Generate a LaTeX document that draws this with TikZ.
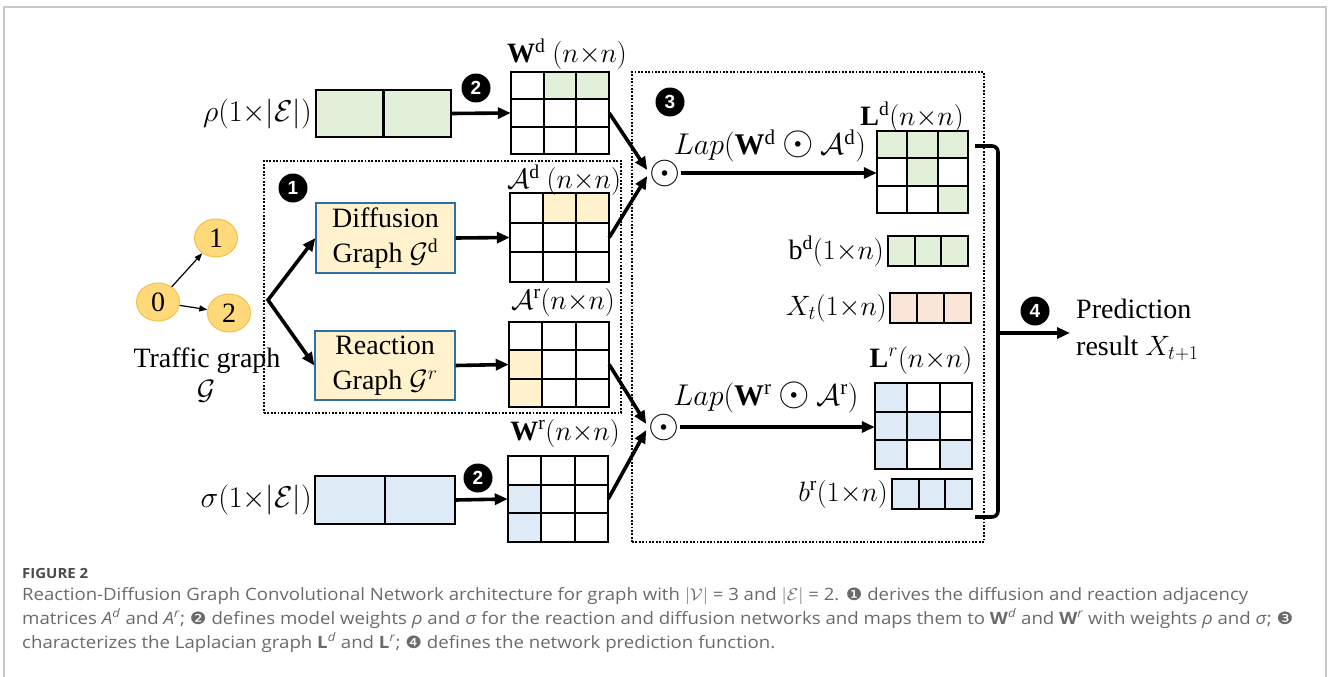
\documentclass[tikz,border=0pt]{standalone}
\usepackage{fix-cm}
\usepackage{fontspec}
\setmainfont{Liberation Serif}
\newfontfamily\capfont{Open Sans}
\newfontfamily\symfont{DejaVu Sans}
\newfontfamily\badgefont{Liberation Sans}
\usetikzlibrary{arrows.meta,shapes.geometric,fit,calc}

\definecolor{cgreen}{HTML}{E2F0D9}
\definecolor{cyellow}{HTML}{FFF2CC}
\definecolor{cblue}{HTML}{DEEBF7}
\definecolor{cpeach}{HTML}{FBE5D6}
\definecolor{boxblue}{HTML}{2E6FA7}
\definecolor{nodefill}{HTML}{FFD97A}
\definecolor{nodeedge}{HTML}{F5C04A}
\definecolor{framegray}{HTML}{C8C8C8}
\definecolor{captext}{HTML}{6A6A6A}
\definecolor{caphead}{HTML}{4A4A4A}

\tikzset{
  matline/.style={line width=2.2pt, line cap=rect},
  flow/.style={line width=3.6pt, line join=miter, -{Triangle[length=13pt,width=11pt]}},
  thinarrow/.style={line width=1.2pt, -{Triangle[length=8pt,width=6pt]}},
  dotbox/.style={draw, line width=1.8pt, dash pattern=on 1.8pt off 1.6pt, inner sep=0pt},
  badge/.style={circle, fill=black, text=white, minimum size=29pt, inner sep=0pt,
    font=\badgefont\bfseries\fontsize{19}{19}\selectfont},
  gbox/.style={draw=boxblue, line width=1.2pt, fill=cyellow, align=center, inner sep=0pt,
    font=\fontsize{28}{35}\selectfont},
  tnode/.style={ellipse, draw=nodeedge, fill=nodefill, line width=1pt, minimum width=43pt,
    minimum height=38pt, inner sep=0pt, font=\fontsize{28}{28}\selectfont},
  lbl/.style={font=\fontsize{28}{34}\selectfont, inner sep=0pt},
  biglbl/.style={font=\fontsize{30}{34}\selectfont, inner sep=0pt},
  captxt/.style={anchor=base west, inner sep=0pt, text=captext,
    font=\capfont\fontsize{17}{20}\selectfont},
}

% a larger Hadamard-product sign
\newcommand{\hprod}{\mathbin{\scalebox{1.35}{$\odot$}}}

% grid of cells: name, x0, y0, x1, y1, columns, rows, fill colour, filled cells (col/row)
\newcommand{\gridmat}[9]{%
  \foreach \cc/\rr in {#9}{%
    \fill[#8] ({#2+(\cc-1)*(#4-#2)/#6},{#3+(\rr-1)*(#5-#3)/#7})
      rectangle ({#2+\cc*(#4-#2)/#6},{#3+\rr*(#5-#3)/#7});
  }
  \foreach \ii in {0,...,#6}{\draw[matline] ({#2+\ii*(#4-#2)/#6},#3) -- ({#2+\ii*(#4-#2)/#6},#5);}
  \foreach \jj in {0,...,#7}{\draw[matline] (#2,{#3+\jj*(#5-#3)/#7}) -- (#4,{#3+\jj*(#5-#3)/#7});}
  \node[fit={(#2,#3) (#4,#5)}, inner sep=0pt] (#1) {};
}

\begin{document}
\begin{tikzpicture}[x=1pt,y=-1pt]
\useasboundingbox (0,0) rectangle (1328,677);

% outer frame
\draw[framegray, line width=1.5pt] (4,700) -- (4,7) -- (1326,7) -- (1326,700);

% ---- traffic graph ----
\node[tnode] (t0) at (158,302) {0};
\node[tnode] (t1) at (216,238) {1};
\node[tnode] (t2) at (229,313) {2};
\draw[thinarrow] (t0) -- (t1);
\draw[thinarrow] (t0) -- (t2);
\node[lbl, anchor=base] (tgname) at (207,367) {Traffic graph};
\node[lbl, anchor=base] (tgsym) at (206,399) {$\mathcal{G}$};

% ---- stage 1: graph construction ----
\node[dotbox, fit={(264,161) (621,413)}] (stage1) {};
\node[badge] (b1) at (293,188) {1};
\node[gbox, minimum width=139pt, minimum height=70pt] (diff) at (385.5,238)
  {Diffusion\\Graph $\mathcal{G}^{\mathrm{d}}$};
\node[gbox, minimum width=140pt, minimum height=69pt] (reac) at (385,365.5)
  {Reaction\\Graph $\mathcal{G}^{r}$};
\coordinate (fork) at (268,300);
\draw[flow, {Triangle[length=13pt,width=11pt]}-{Triangle[length=13pt,width=11pt]}]
  (diff.west) -- (fork) -- (reac.west);

\gridmat{Ad}{510}{193}{609}{282}{3}{3}{cyellow}{2/1,3/1}
\gridmat{Ar}{509}{322}{609}{407}{3}{3}{cyellow}{1/2,1/3}
\node[lbl] (Adlbl) at (564,180) {$\mathcal{A}^{\mathrm{d}}$ $(n{\times}n)$};
\node[lbl] (Arlbl) at (563,302) {$\mathcal{A}^{\mathrm{r}}(n{\times}n)$};
\draw[flow] (diff.east) -- (Ad.west);
\draw[flow] (reac.east) -- (Ar.west);

% ---- stage 2: edge weights ----
\gridmat{rho}{316}{90}{451}{137}{2}{1}{cgreen}{1/1,2/1}
\gridmat{sig}{315}{476}{455}{524}{2}{1}{cblue}{1/1,2/1}
\node[biglbl, anchor=east] (rholbl) at (312,114) {$\rho(1{\times}|\mathcal{E}|)$};
\node[biglbl, anchor=east] (siglbl) at (312,500) {$\sigma(1{\times}|\mathcal{E}|)$};
\gridmat{Wd}{511}{72}{609}{154}{3}{3}{cgreen}{2/1,3/1}
\gridmat{Wr}{508}{456}{608}{542}{3}{3}{cblue}{1/2,1/3}
\node[lbl] (Wdlbl) at (567,54) {$\mathbf{W}^{\mathrm{d}}$ $(n{\times}n)$};
\node[lbl] (Wrlbl) at (565,433) {$\mathbf{W}^{\mathrm{r}}(n{\times}n)$};
\node[badge] (b2a) at (476,88) {2};
\node[badge] (b2b) at (478,478) {2};
\draw[flow] (rho.east) -- (Wd.west);
\draw[flow] (sig.east) -- (Wr.west);

% ---- stage 3: Laplacians ----
\node[dotbox, fit={(632,72) (984,542)}] (stage3) {};
\node[badge] (b3) at (670,102) {3};
\node[lbl, font=\fontsize{40}{40}\selectfont] (odU) at (665,173) {$\odot$};
\node[lbl, font=\fontsize{40}{40}\selectfont] (odL) at (664,427) {$\odot$};
\draw[flow] (Wd.east) -- ([xshift=-2pt,yshift=3pt]odU.west);
\draw[flow] (Ad.east) -- ([xshift=-2pt,yshift=-3pt]odU.west);
\draw[flow] (Ar.east) -- ([xshift=-2pt,yshift=3pt]odL.west);
\draw[flow] (Wr.east) -- ([xshift=-2pt,yshift=-3pt]odL.west);

\gridmat{Ld}{877}{131}{968}{213}{3}{3}{cgreen}{1/1,2/1,3/1,2/2,3/3}
\gridmat{bd}{888}{236}{968}{266}{3}{1}{cgreen}{1/1,2/1,3/1}
\gridmat{Xt}{890}{293}{971}{323}{3}{1}{cpeach}{1/1,2/1,3/1}
\gridmat{Lr}{875}{383}{972}{469}{3}{3}{cblue}{1/1,1/2,2/2,1/3,3/3}
\gridmat{br}{892}{479}{972}{509}{3}{1}{cblue}{1/1,2/1,3/1}

\node[lbl] (Ldlbl) at (912,117) {$\mathbf{L}^{\mathrm{d}}(n{\times}n)$};
\node[lbl, anchor=east] (bdlbl) at (884,251) {$\mathrm{b}^{\mathrm{d}}(1{\times}n)$};
\node[lbl, anchor=east] (Xtlbl) at (887,308) {$X_t(1{\times}n)$};
\node[lbl] (Lrlbl) at (921,360) {$\mathbf{L}^{r}(n{\times}n)$};
\node[lbl, anchor=east] (brlbl) at (888,494) {$b^{\mathrm{r}}(1{\times}n)$};

\node[biglbl] (lapU) at (770,146) {$Lap(\mathbf{W}^{\mathrm{d}}\hprod\mathcal{A}^{\mathrm{d}})$};
\node[biglbl] (lapL) at (766,397) {$Lap(\mathbf{W}^{\mathrm{r}}\hprod\mathcal{A}^{\mathrm{r}})$};
\draw[flow] (odU.east) -- (odU.east -| Ld.west);
\draw[flow] (odL.east) -- (odL.east -| Lr.west);

% ---- stage 4: prediction ----
\coordinate (brtop) at (975,146);
\coordinate (brbot) at (975,517);
\coordinate (brmid) at (998,333);
\draw[line width=3.6pt, rounded corners=6pt] (brtop) -- (998,146) -- (998,517) -- (brbot);
\node[badge] (b4) at (1035,311) {4};
\node[lbl, anchor=west, align=left, font=\fontsize{28}{37}\selectfont] (pred) at (1076,330)
  {Prediction\\result $X_{t+1}$};
\draw[flow, shorten >=6pt] (brmid) -- (brmid -| pred.west);

% ---- caption ----
\node[anchor=base west, inner sep=0pt, text=caphead, font=\capfont\bfseries\fontsize{14}{14}\selectfont]
  (fighead) at (22,578) {\resizebox{66pt}{\height}{FIGURE 2}};
\node[captxt] (cap1) at (22,600) {\resizebox{1226pt}{\height}{Reaction-Diffusion Graph Convolutional Network architecture for graph with $|\mathcal{V}|$ = 3 and $|\mathcal{E}|$ = 2. {\symfont ❶} derives the diffusion and reaction adjacency}};
\node[captxt] (cap2) at (22,624) {\resizebox{1271pt}{\height}{matrices \textit{A}\textsuperscript{\textit{d}} and \textit{A}\textsuperscript{\textit{r}}; {\symfont ❷} defines model weights \textit{ρ} and \textit{σ} for the reaction and diffusion networks and maps them to \textbf{W}\textsuperscript{\textit{d}} and \textbf{W}\textsuperscript{\textit{r}} with weights \textit{ρ} and \textit{σ}; {\symfont ❸}}};
\node[captxt] (cap3) at (22,648) {\resizebox{753pt}{\height}{characterizes the Laplacian graph \textbf{L}\textsuperscript{\textit{d}} and \textbf{L}\textsuperscript{\textit{r}}; {\symfont ❹} defines the network prediction function.}};
\end{tikzpicture}
\end{document}
